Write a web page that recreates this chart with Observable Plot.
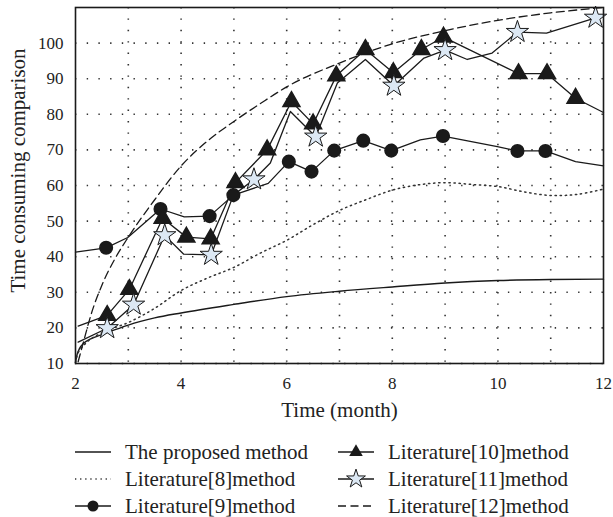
<!DOCTYPE html>
<html>
<head>
<meta charset="utf-8">
<script src="https://cdn.jsdelivr.net/npm/d3@7"></script>
<script src="https://cdn.jsdelivr.net/npm/@observablehq/plot@0.6"></script>
<style>
  html, body { margin: 0; padding: 0; background: #fff; }
  #wrap { position: relative; width: 613px; height: 517px; font-family: "Liberation Serif", "Times New Roman", Times, "DejaVu Serif", serif; }
  .item { position: absolute; display: flex; align-items: center; height: 26px; font-size: 21px; color: #222; white-space: nowrap; }
  .item svg { display: block; }
  .item span { position: absolute; }
</style>
</head>
<body>
<div id="wrap"></div>
<script>
// ---- data ----
const xTicks = [2, 4, 6, 8, 10, 12];
const yTicks = [10, 20, 30, 40, 50, 60, 70, 80, 90, 100];
const xGrid = [3, 4, 5, 6, 7, 8, 9, 10, 11];

const seriesNames = ["The proposed method", "Literature[8]method", "Literature[9]method",
                     "Literature[10]method", "Literature[11]method", "Literature[12]method"];

const propX = [2, 2.03, 2.08, 2.15, 2.3, 2.5, 2.75, 3, 3.5, 4, 5, 6, 7, 8, 9, 10, 11, 12];
const propY = [10.3, 12.5, 14.3, 15.6, 17, 18.1, 19.5, 20.8, 22.8, 24.2, 26.6, 28.8, 30.3, 31.5, 32.6, 33.3, 33.6, 33.7];

const lit8X = [2, 2.05, 2.15, 2.3, 2.6, 3, 3.5, 4, 4.5, 5, 5.5, 6, 6.5, 7, 7.5, 8, 8.5, 9, 9.5, 10, 10.5, 11, 11.5, 12];
const lit8Y = [10.3, 13, 15, 17, 19.3, 21.5, 25.5, 30.5, 34, 37, 41, 44.6, 49, 53, 56, 58.7, 60.2, 60.8, 60.3, 59.7, 58.2, 57.2, 57.5, 59];

const lit9X = [2, 2.58, 2.99, 3.61, 4.06, 4.54, 4.99, 5.65, 6.04, 6.47, 6.9, 7.45, 7.98, 8.53, 8.96, 9.99, 10.37, 10.9, 11.47, 12];
const lit9Y = [41.3, 42.5, 45.4, 53.4, 51.2, 51.4, 57.3, 60.6, 66.7, 63.9, 69.8, 72.6, 69.8, 72.8, 73.9, 70.9, 69.7, 69.7, 66.7, 65.5];
const lit9M = [0, 1, 0, 1, 0, 1, 1, 0, 1, 1, 1, 1, 1, 0, 1, 0, 1, 1, 0, 0];

const lit10X = [2.05, 2.6, 3.02, 3.65, 4.1, 4.56, 5.03, 5.63, 6.09, 6.5, 6.94, 7.49, 8.02, 8.55, 8.97, 10.39, 10.93, 11.47, 12];
const lit10Y = [20.5, 23.5, 30.8, 50.8, 45.5, 45, 60.8, 70, 83.6, 77.3, 90.8, 98.2, 91.7, 98.2, 101.7, 91.4, 91.4, 84.5, 80.5];
const lit10M = [0, 1, 1, 1, 1, 1, 1, 1, 1, 1, 1, 1, 1, 1, 1, 1, 1, 1, 0];

const lit11X = [2.05, 2.6, 3.1, 3.69, 4.05, 4.57, 4.99, 5.38, 5.69, 6.07, 6.55, 6.96, 7.49, 8.03, 8.6, 9.0, 9.42, 9.89, 10.37, 10.92, 11.85];
const lit11Y = [16, 19.9, 26.5, 46, 40.7, 40.5, 57.3, 61.7, 66.3, 80.8, 73.7, 88.8, 95.4, 88, 95.8, 98, 95.4, 97.2, 103.1, 102.8, 107.1];
const lit11M = [0, 1, 1, 1, 0, 1, 0, 1, 0, 0, 1, 0, 0, 1, 0, 1, 0, 0, 1, 0, 1];

const lit12X = [2.05, 2.15, 2.3, 2.5, 2.75, 3, 3.5, 4, 4.5, 5, 5.5, 6, 7, 8, 9, 10, 11, 12];
const lit12Y = [10.5, 16, 24, 32, 39.5, 45.5, 56, 65.5, 72.5, 78, 83, 87.7, 94.4, 99.8, 103.5, 106.4, 108.5, 110];

const xLabel = "Time (month)";
const yLabel = "Time consuming comparison";

// ---- build tables ----
const rows = (xs, ys, ms) => xs.map((x, i) => ({x, y: ys[i], m: ms ? ms[i] : 0}));
const prop = rows(propX, propY);
const lit8 = rows(lit8X, lit8Y);
const lit9 = rows(lit9X, lit9Y, lit9M);
const lit10 = rows(lit10X, lit10Y, lit10M);
const lit11 = rows(lit11X, lit11Y, lit11M);
const lit12 = rows(lit12X, lit12Y);

const starFill = "#dce8f4";
const ink = "#1a1a1a";
const serifStack = "'Liberation Serif', 'Times New Roman', Times, 'DejaVu Serif', serif";

const chart = Plot.plot({
  width: 613,
  height: 430,
  marginTop: 7,
  marginLeft: 75,
  marginRight: 10,
  marginBottom: 67,
  style: {fontFamily: serifStack, fontSize: "17px", color: "#222", background: "white"},
  x: {domain: [2, 12], ticks: xTicks, tickSize: 0, tickPadding: 13, label: null, tickFormat: d => String(d)},
  y: {domain: [10, 110], ticks: yTicks, tickSize: 0, tickPadding: 12, label: null, tickFormat: d => String(d)},
  marks: [
    Plot.gridX(xGrid, {stroke: "#333", strokeOpacity: 1, strokeWidth: 1.6, strokeDasharray: "1.4,10"}),
    Plot.gridY(yTicks, {stroke: "#333", strokeOpacity: 1, strokeWidth: 1.6, strokeDasharray: "1.4,10.3"}),
    Plot.line(prop, {x: "x", y: "y", stroke: ink, strokeWidth: 1.4, curve: "monotone-x"}),
    Plot.line(lit8, {x: "x", y: "y", stroke: "#333", strokeWidth: 1.5, strokeDasharray: "1.3,3.8", curve: "catmull-rom"}),
    Plot.line(lit12, {x: "x", y: "y", stroke: ink, strokeWidth: 1.3, strokeDasharray: "8,4.5", curve: "monotone-x"}),
    Plot.line(lit9, {x: "x", y: "y", stroke: ink, strokeWidth: 1.3}),
    Plot.line(lit10, {x: "x", y: "y", stroke: ink, strokeWidth: 1.3}),
    Plot.line(lit11, {x: "x", y: "y", stroke: ink, strokeWidth: 1.3}),
    Plot.dot(lit9.filter(d => d.m), {x: "x", y: "y", r: 6.3, fill: ink, stroke: ink}),
    Plot.dot(lit10.filter(d => d.m), {x: "x", y: "y", symbol: "triangle", r: 6.3, fill: ink, stroke: ink}),
    Plot.dot(lit11.filter(d => d.m), {x: "x", y: "y", symbol: "star", r: 7, fill: starFill, stroke: ink, strokeWidth: 1}),
    Plot.frame({stroke: ink, strokeWidth: 1.6}),
    Plot.text([xLabel], {text: d => d, frameAnchor: "bottom", dy: 47, textAnchor: "middle", lineAnchor: "middle", fontSize: 21, fill: "#222"}),
    Plot.text([yLabel], {text: d => d, frameAnchor: "left", dx: -57, dy: -15, rotate: -90, textAnchor: "middle", lineAnchor: "middle", fontSize: 21, fill: "#222"})
  ]
});

const wrap = document.getElementById("wrap");
chart.style.position = "absolute";
chart.style.left = "0px";
chart.style.top = "0px";
wrap.appendChild(chart);

// ---- legend ----
const legendStyle = [
  {dash: null, marker: null},
  {dash: "1.3,3.8", marker: null},
  {dash: null, marker: "circle"},
  {dash: null, marker: "triangle"},
  {dash: null, marker: "star"},
  {dash: "8,4.5", marker: null}
];
const legendPos = [
  {left: 75, top: 439, text: 125}, {left: 75, top: 466, text: 125}, {left: 75, top: 493, text: 125},
  {left: 338, top: 439, text: 388}, {left: 338, top: 466, text: 388}, {left: 338, top: 493, text: 388}
];
seriesNames.forEach((name, i) => {
  const p = legendPos[i], s = legendStyle[i];
  const item = document.createElement("div");
  item.className = "item";
  item.style.left = p.left + "px";
  item.style.top = p.top + "px";
  const sw = d3.create("svg").attr("width", 36).attr("height", 26);
  sw.append("line").attr("x1", 0).attr("x2", 36).attr("y1", 13).attr("y2", 13)
    .attr("stroke", i === 1 ? "#333" : ink).attr("stroke-width", 1.4)
    .attr("stroke-dasharray", s.dash);
  if (s.marker === "circle") {
    sw.append("circle").attr("cx", 18).attr("cy", 13).attr("r", 5.5).attr("fill", ink);
  } else if (s.marker === "triangle") {
    sw.append("path").attr("transform", "translate(18,13)")
      .attr("d", d3.symbol(d3.symbolTriangle, 80)()).attr("fill", ink);
  } else if (s.marker === "star") {
    sw.append("path").attr("transform", "translate(18,13)")
      .attr("d", d3.symbol(d3.symbolStar, 110)()).attr("fill", starFill).attr("stroke", ink).attr("stroke-width", 1);
  }
  item.appendChild(sw.node());
  const span = document.createElement("span");
  span.textContent = name;
  span.style.left = (p.text - p.left) + "px";
  item.appendChild(span);
  wrap.appendChild(item);
});
</script>
</body>
</html>
